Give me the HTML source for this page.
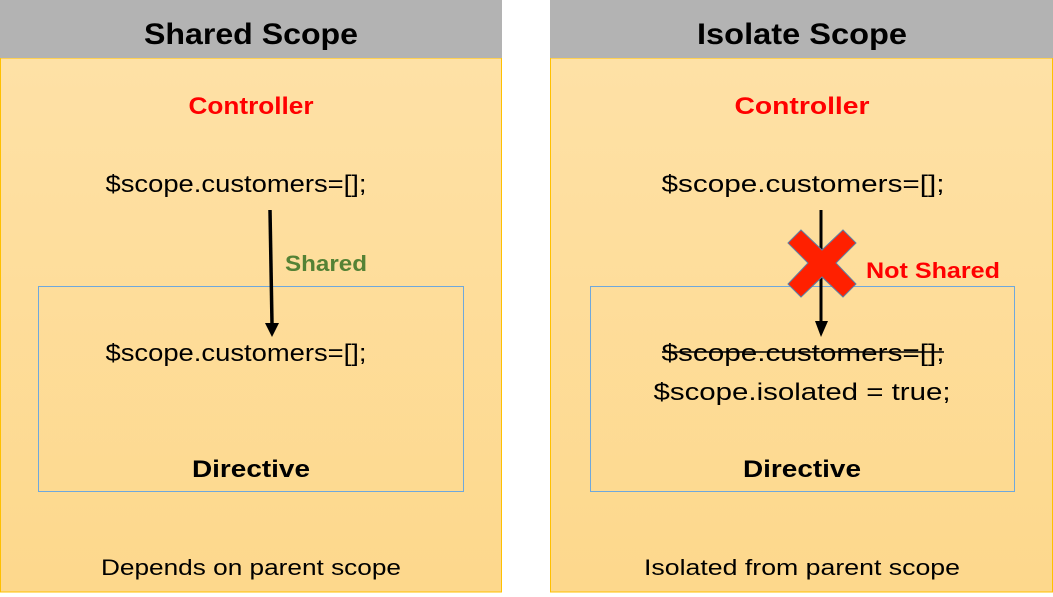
<!DOCTYPE html>
<html><head><meta charset="utf-8"><style>
html,body{margin:0;padding:0;background:#fff;}
svg{display:block;font-family:"Liberation Sans",sans-serif;}
</style></head><body>
<svg width="1053" height="597" viewBox="0 0 1053 597" xmlns="http://www.w3.org/2000/svg">
<defs>
<linearGradient id="g" x1="0" y1="0" x2="0" y2="1">
<stop offset="0" stop-color="#fee1a6"/><stop offset="1" stop-color="#fdd88c"/>
</linearGradient>
</defs>
<!-- left panel -->
<rect x="0.5" y="58" width="501" height="534" fill="url(#g)" stroke="#ffc000" stroke-width="1"/>
<rect x="0" y="0" width="502" height="58" fill="#b3b3b3"/>
<text x="251" y="44" text-anchor="middle" font-size="30" font-weight="bold" textLength="214" lengthAdjust="spacingAndGlyphs">Shared Scope</text>
<text x="251" y="114" text-anchor="middle" font-size="24" font-weight="bold" fill="#ff0000" textLength="125" lengthAdjust="spacingAndGlyphs">Controller</text>
<text x="236" y="192" text-anchor="middle" font-size="24" textLength="261" lengthAdjust="spacingAndGlyphs">$scope.customers=[];</text>
<rect x="38.5" y="286.5" width="425" height="205" fill="none" stroke="#6fa8dc" stroke-width="1"/>
<line x1="270" y1="210" x2="272" y2="324" stroke="#000" stroke-width="3.5"/>
<polygon points="265,323 279,323 272,337" fill="#000"/>
<text x="326" y="271" text-anchor="middle" font-size="22" font-weight="bold" fill="#548235" textLength="82" lengthAdjust="spacingAndGlyphs">Shared</text>
<text x="236" y="361" text-anchor="middle" font-size="24" textLength="261" lengthAdjust="spacingAndGlyphs">$scope.customers=[];</text>
<text x="251" y="477" text-anchor="middle" font-size="24" font-weight="bold" textLength="118" lengthAdjust="spacingAndGlyphs">Directive</text>
<text x="251" y="575" text-anchor="middle" font-size="22" textLength="300" lengthAdjust="spacingAndGlyphs">Depends on parent scope</text>

<!-- right panel -->
<rect x="550.5" y="58" width="502" height="534" fill="url(#g)" stroke="#ffc000" stroke-width="1"/>
<rect x="550" y="0" width="503" height="58" fill="#b3b3b3"/>
<text x="802" y="44" text-anchor="middle" font-size="30" font-weight="bold" textLength="210" lengthAdjust="spacingAndGlyphs">Isolate Scope</text>
<text x="802" y="114" text-anchor="middle" font-size="24" font-weight="bold" fill="#ff0000" textLength="135" lengthAdjust="spacingAndGlyphs">Controller</text>
<text x="803" y="192" text-anchor="middle" font-size="24" textLength="283" lengthAdjust="spacingAndGlyphs">$scope.customers=[];</text>
<rect x="590.5" y="286.5" width="424" height="205" fill="none" stroke="#6fa8dc" stroke-width="1"/>
<line x1="821" y1="210" x2="821" y2="322" stroke="#000" stroke-width="3"/>
<polygon points="815,321 828,321 821,337" fill="#000"/>
<polygon points="801,230 822,250 843,230 856,243 836,263 856,284 843,297 822,277 801,297 788,284 808,263 788,243" fill="#ff2000" stroke="#5b7fa6" stroke-width="1"/>
<text x="933" y="278" text-anchor="middle" font-size="22" font-weight="bold" fill="#ff0000" textLength="134" lengthAdjust="spacingAndGlyphs">Not Shared</text>
<text x="803" y="361" text-anchor="middle" font-size="24" textLength="283" lengthAdjust="spacingAndGlyphs">$scope.customers=[];</text>
<line x1="662" y1="352" x2="944" y2="352" stroke="#000" stroke-width="1.5"/>
<text x="802" y="400" text-anchor="middle" font-size="24" textLength="297" lengthAdjust="spacingAndGlyphs">$scope.isolated = true;</text>
<text x="802" y="477" text-anchor="middle" font-size="24" font-weight="bold" textLength="118" lengthAdjust="spacingAndGlyphs">Directive</text>
<text x="802" y="575" text-anchor="middle" font-size="22" textLength="316" lengthAdjust="spacingAndGlyphs">Isolated from parent scope</text>
</svg>
</body></html>
